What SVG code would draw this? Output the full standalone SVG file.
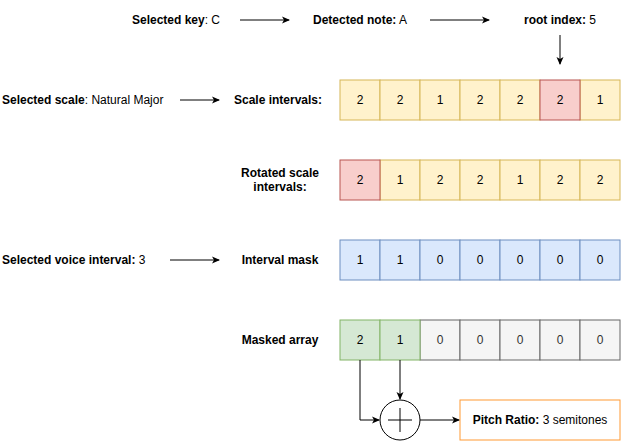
<svg xmlns="http://www.w3.org/2000/svg" width="622" height="441" viewBox="0 0 622 441">
<defs>
<marker id="ah" markerWidth="10" markerHeight="10" refX="7" refY="5" orient="auto" markerUnits="userSpaceOnUse">
<path d="M0,1.5 L8,5 L0,8.5 L2,5 Z" fill="#000"/>
</marker>
<style>
text{font-family:"Liberation Sans",Arial,sans-serif;font-size:12px;fill:#000}
.b{font-weight:bold}
.c{text-anchor:middle}
.y{fill:#fff2cc;stroke:#d6b656}
.r{fill:#f8cecc;stroke:#b85450}
.u{fill:#dae8fc;stroke:#6c8ebf}
.g{fill:#d5e8d4;stroke:#82b366}
.s{fill:#f5f5f5;stroke:#666666}
.gt{fill:#333333}
.ln{fill:none;stroke:#000;stroke-width:1;marker-end:url(#ah)}
</style>
</defs>
<rect width="622" height="441" fill="#fff"/>

<g id="key"><text x="176" y="24" class="c"><tspan class="b">Selected key</tspan>: C</text></g>
<g id="note"><text x="360" y="24" class="c"><tspan class="b">Detected note:</tspan> A</text></g>
<g id="root"><text x="560" y="24" class="c"><tspan class="b">root index:</tspan> 5</text></g>
<g id="scale"><text x="2" y="104"><tspan class="b">Selected scale</tspan>: Natural Major</text></g>
<g id="scaleLabel"><text x="278" y="104" class="c b">Scale intervals:</text></g>
<g id="rotLabel"><text x="280" y="177" class="c b">Rotated scale</text><text x="280" y="191" class="c b">intervals:</text></g>
<g id="voice"><text x="2" y="264"><tspan class="b">Selected voice interval:</tspan> 3</text></g>
<g id="maskLabel"><text x="280" y="264" class="c b">Interval mask</text></g>
<g id="maskedLabel"><text x="280" y="344" class="c b">Masked array</text></g>

<g id="scaleIntervals">
<rect x="340" y="80" width="40" height="40" class="y"/><text x="360" y="104" class="c">2</text>
<rect x="380" y="80" width="40" height="40" class="y"/><text x="400" y="104" class="c">2</text>
<rect x="420" y="80" width="40" height="40" class="y"/><text x="440" y="104" class="c">1</text>
<rect x="460" y="80" width="40" height="40" class="y"/><text x="480" y="104" class="c">2</text>
<rect x="500" y="80" width="40" height="40" class="y"/><text x="520" y="104" class="c">2</text>
<rect x="580" y="80" width="40" height="40" class="y"/><text x="600" y="104" class="c">1</text>
<rect x="540" y="80" width="40" height="40" class="r"/><text x="560" y="104" class="c">2</text>
</g>

<g id="rotatedIntervals">
<rect x="380" y="160" width="40" height="40" class="y"/><text x="400" y="184" class="c">1</text>
<rect x="420" y="160" width="40" height="40" class="y"/><text x="440" y="184" class="c">2</text>
<rect x="460" y="160" width="40" height="40" class="y"/><text x="480" y="184" class="c">2</text>
<rect x="500" y="160" width="40" height="40" class="y"/><text x="520" y="184" class="c">1</text>
<rect x="540" y="160" width="40" height="40" class="y"/><text x="560" y="184" class="c">2</text>
<rect x="580" y="160" width="40" height="40" class="y"/><text x="600" y="184" class="c">2</text>
<rect x="340" y="160" width="40" height="40" class="r"/><text x="360" y="184" class="c">2</text>
</g>

<g id="intervalMask">
<rect x="340" y="240" width="40" height="40" class="u"/><text x="360" y="264" class="c">1</text>
<rect x="380" y="240" width="40" height="40" class="u"/><text x="400" y="264" class="c">1</text>
<rect x="420" y="240" width="40" height="40" class="u"/><text x="440" y="264" class="c">0</text>
<rect x="460" y="240" width="40" height="40" class="u"/><text x="480" y="264" class="c">0</text>
<rect x="500" y="240" width="40" height="40" class="u"/><text x="520" y="264" class="c">0</text>
<rect x="540" y="240" width="40" height="40" class="u"/><text x="560" y="264" class="c">0</text>
<rect x="580" y="240" width="40" height="40" class="u"/><text x="600" y="264" class="c">0</text>
</g>

<g id="maskedArray">
<rect x="420" y="320" width="40" height="40" class="s"/><text x="440" y="344" class="c gt">0</text>
<rect x="460" y="320" width="40" height="40" class="s"/><text x="480" y="344" class="c gt">0</text>
<rect x="500" y="320" width="40" height="40" class="s"/><text x="520" y="344" class="c gt">0</text>
<rect x="540" y="320" width="40" height="40" class="s"/><text x="560" y="344" class="c gt">0</text>
<rect x="580" y="320" width="40" height="40" class="s"/><text x="600" y="344" class="c gt">0</text>
<rect x="340" y="320" width="40" height="40" class="g"/><text x="360" y="344" class="c">2</text>
<rect x="380" y="320" width="40" height="40" class="g"/><text x="400" y="344" class="c">1</text>
</g>

<g id="sum">
<circle cx="400" cy="420" r="20" fill="#fff" stroke="#000"/>
<path d="M400,408 V432 M388,420 H412" stroke="#000" fill="none"/>
</g>

<g id="pitchRatio">
<rect x="460" y="400" width="160" height="40" fill="#fff" stroke="#ff9933"/>
<text x="540" y="424" class="c"><tspan class="b">Pitch Ratio:</tspan> 3 semitones</text>
</g>

<g id="connectors">
<path d="M240,20 H289" class="ln"/>
<path d="M430,20 H489" class="ln"/>
<path d="M560,35 V64" class="ln"/>
<path d="M180,100 H219" class="ln"/>
<path d="M170,260 H219" class="ln"/>
<path d="M360,360 V420 H379" class="ln"/>
<path d="M400,360 V399" class="ln"/>
<path d="M420,420 H459" class="ln"/>
</g>
</svg>
